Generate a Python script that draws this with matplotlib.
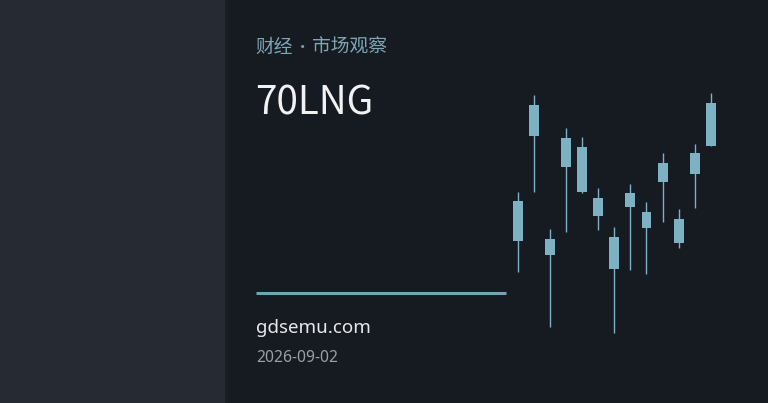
import matplotlib
matplotlib.use("Agg")
import matplotlib.pyplot as plt
import numpy as np

# candle data (same colour for all bodies in the reference)
opens = [16.23, 26.73, 16.40, 26.50, 25.60, 20.53, 16.63, 19.57, 17.47, 22.13, 18.43, 22.90, 25.73]
closes = [20.17, 29.80, 14.83, 23.57, 21.10, 18.70, 13.43, 21.00, 19.13, 24.00, 16.03, 24.97, 29.97]
highs = [21.08, 30.80, 17.40, 27.47, 26.57, 21.50, 17.63, 21.93, 20.10, 24.97, 19.40, 25.90, 30.97]
lows = [13.13, 21.08, 7.63, 17.13, 20.97, 17.27, 6.97, 13.30, 12.90, 18.13, 15.53, 19.53, 25.73]

kicker_parts = ["财经", "·", "市场观察"]
ticker = "70LNG"
site = "gdsemu.com"
date = "2026-09-02"

W, H = 768, 403
bg_left = "#262a33"
bg_right = "#161a21"
candle_col = "#7fb1c5"
line_col = "#6fa5b4"
cjk = ["Noto Sans CJK SC", "DejaVu Sans"]

fig = plt.figure(figsize=(W / 100, H / 100), dpi=100)
fig.patch.set_facecolor(bg_right)

# background panels
bg = fig.add_axes([0, 0, 1, 1])
bg.set_xlim(0, W)
bg.set_ylim(H, 0)
bg.axis("off")
bg.add_patch(plt.Rectangle((0, 0), 225, H, color=bg_left, lw=0))
# soft shadow at the panel edge
for i, c in enumerate(["#1b1e25", "#191c23", "#181b22", "#171a21"]):
    bg.add_patch(plt.Rectangle((225 + i * 1.5, 0), 1.5, H, color=c, lw=0))

# accent line
bg.plot([256, 506], [292.5, 292.5], color=line_col, lw=2.2, solid_capstyle="butt")

def fy(px):
    return (H - px) / H

def fx(px):
    return px / W

# kicker, set in pieces so the dot spacing is tight like the original
kc = "#7ea7b6"
fig.text(fx(255.5), fy(52.5), kicker_parts[0], color=kc, fontsize=13.5, family=cjk, va="baseline")
fig.text(fx(303), fy(52), kicker_parts[1], color=kc, fontsize=11, family=cjk,
         va="baseline", ha="center")
fig.text(fx(312), fy(52.5), kicker_parts[2], color=kc, fontsize=13.5, family=cjk, va="baseline")

fig.text(fx(255.5), fy(114.5), ticker, color="#f2f2f2", fontsize=27.8, family=cjk, va="baseline")
fig.text(fx(256), fy(333), site, color="#e8e8e8", fontsize=13.5,
         family=["Noto Sans", "DejaVu Sans"], va="baseline")
fig.text(fx(256), fy(362), date, color="#9a9ea6", fontsize=11.3,
         family=["Noto Sans", "DejaVu Sans"], va="baseline")

# candles
ax = fig.add_axes([500 / W, 0, 230 / W, 1])
ax.set_facecolor("none")
ax.axis("off")
step = 16.06
ax.set_xlim(-18 / step, 212 / step)
ax.set_ylim(0, H / 10)

x = np.arange(len(opens))
o = np.array(opens)
c = np.array(closes)
ax.vlines(x, lows, highs, color=candle_col, lw=1.0)
bottom = np.minimum(o, c)
ax.bar(x, np.abs(c - o), bottom=bottom, width=0.62, color=candle_col, lw=0)

fig.savefig("out.png", dpi=100, facecolor=fig.get_facecolor())
